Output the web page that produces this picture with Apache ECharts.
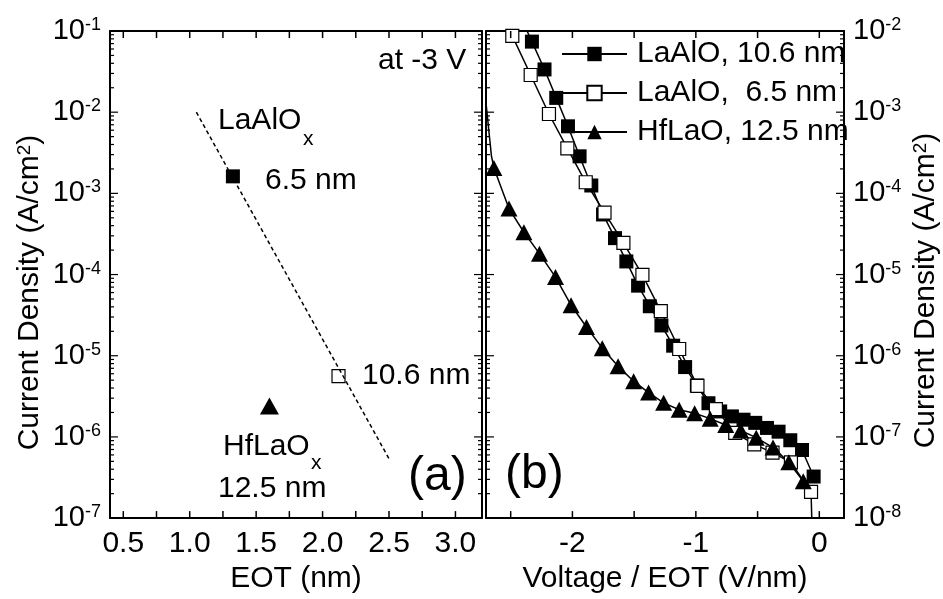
<!DOCTYPE html>
<html><head><meta charset="utf-8">
<script src="https://cdn.jsdelivr.net/npm/echarts@6/dist/echarts.min.js"></script>
<style>html,body{margin:0;padding:0;background:#fff}#c{width:943px;height:599px}</style>
</head><body><div id="c"></div>
<script>
// ---------- Panel (a): current density at -3 V vs EOT ----------
const eotLaAlO65 = [[1.325, 1.62e-3]];   // LaAlOx 6.5 nm
const eotLaAlO106 = [[2.12, 5.6e-6]];    // LaAlOx 10.6 nm
const eotHfLaO125 = [[1.60, 2.4e-6]];    // HfLaOx 12.5 nm
const eotTrendX = [1.05, 2.50];
const eotTrendY = [1.0e-2, 5.4e-7];

// ---------- Panel (b): J vs Voltage/EOT ----------
const fieldLaAlO106 = [-2.42, -2.328, -2.226, -2.131, -2.036, -1.942, -1.847, -1.752, -1.655, -1.563, -1.468, -1.373, -1.279, -1.184, -1.087, -0.992, -0.898, -0.803, -0.708, -0.614, -0.519, -0.424, -0.330, -0.235, -0.140, -0.046];
const jLaAlO106 = [1.5e-2, 7.4e-3, 3.36e-3, 1.50e-3, 6.7e-4, 2.86e-4, 1.25e-4, 5.5e-5, 2.81e-5, 1.45e-5, 7.3e-6, 4.07e-6, 2.36e-6, 1.33e-6, 7.25e-7, 4.3e-7, 2.6e-7, 2.06e-7, 1.79e-7, 1.63e-7, 1.49e-7, 1.29e-7, 1.16e-7, 9.1e-8, 6.9e-8, 3.25e-8];
const unmarkedLaAlO106 = [0];

const fieldLaAlO65 = [-2.487, -2.338, -2.190, -2.041, -1.892, -1.740, -1.587, -1.433, -1.284, -1.135, -0.987, -0.838, -0.681, -0.527, -0.379, -0.230, -0.067, -0.053];
const jLaAlO65 = [8.7e-3, 2.87e-3, 9.5e-4, 3.58e-4, 1.37e-4, 5.8e-5, 2.46e-5, 9.9e-6, 3.54e-6, 1.21e-6, 4.26e-7, 2.2e-7, 1.12e-7, 8.1e-8, 6.4e-8, 4.86e-8, 2.1e-8, 3.7e-9];
const unmarkedLaAlO65 = [17];

const fieldHfLaO125 = [-2.70, -2.656, -2.636, -2.514, -2.393, -2.267, -2.137, -2.011, -1.886, -1.758, -1.630, -1.504, -1.383, -1.261, -1.135, -1.010, -0.884, -0.758, -0.637, -0.511, -0.375, -0.247, -0.130];
const jHfLaO125 = [1.3e-3, 2.9e-4, 2.05e-4, 6.5e-5, 3.32e-5, 1.81e-5, 9.3e-6, 4.19e-6, 2.26e-6, 1.24e-6, 7.4e-7, 4.86e-7, 3.52e-7, 2.63e-7, 2.16e-7, 1.96e-7, 1.68e-7, 1.40e-7, 1.20e-7, 9.8e-8, 7.4e-8, 4.86e-8, 2.84e-8];
const unmarkedHfLaO125 = [0, 1];

const seriesNames = ['LaAlO, 10.6 nm', 'LaAlO,  6.5 nm', 'HfLaO, 12.5 nm'];

// ---------- Axis ranges and ticks ----------
const eotRange = [0.4, 3.2];
const fieldRange = [-2.7, 0.2];
const jRangeA = [1e-7, 1e-1];
const jRangeB = [1e-8, 1e-2];
const eotTicks = [0.5, 0.75, 1.0, 1.25, 1.5, 1.75, 2.0, 2.25, 2.5, 2.75, 3.0];
const eotLabels = [0.5, 1.0, 1.5, 2.0, 2.5, 3.0];
const fieldTicks = [-2.5, -2, -1.5, -1, -0.5, 0];
const fieldLabels = [-2, -1, 0];
const decadesA = [1e-7, 1e-6, 1e-5, 1e-4, 1e-3, 1e-2, 1e-1];
const decadesB = [1e-8, 1e-7, 1e-6, 1e-5, 1e-4, 1e-3, 1e-2];

function minorTicks(decades) {
  const out = [];
  for (let i = 0; i < decades.length - 1; i++)
    for (let k = 2; k <= 9; k++) out.push(k * decades[i]);
  return out;
}

const FONT = 'Liberation Sans, Arial, Helvetica, sans-serif';
const BLACK = '#000';

function pts(xs, ys, unmarked) {
  return xs.map((x, i) => unmarked && unmarked.indexOf(i) >= 0
    ? { value: [x, ys[i]], symbol: 'none' } : [x, ys[i]]);
}

const supRich = { sup: { fontSize: 18, lineHeight: 18, verticalAlign: 'top', fontFamily: FONT, color: BLACK } };
function expLabel(v) { return '10{sup|' + Math.round(Math.log10(v)) + '}'; }

function xAx(grid, pos, range, labels, name, fmt) {
  return {
    gridIndex: grid, type: 'value', position: pos, min: range[0], max: range[1],
    splitLine: { show: false },
    axisLine: { show: true, onZero: false, lineStyle: { color: BLACK, width: 2 } },
    axisTick: { show: false },
    axisLabel: labels ? { show: true, customValues: labels, formatter: fmt, fontSize: 30, color: BLACK, fontFamily: FONT, margin: 11 } : { show: false },
    name: name || '', nameLocation: 'middle', nameGap: 41,
    nameTextStyle: { fontSize: 30, color: BLACK, fontFamily: FONT }
  };
}
function yAx(grid, pos, range, labels, name, gap, pad) {
  return {
    gridIndex: grid, type: 'log', logBase: 10, position: pos, min: range[0], max: range[1],
    splitLine: { show: false },
    axisLine: { show: true, onZero: false, lineStyle: { color: BLACK, width: 2 } },
    axisTick: { show: false },
    axisLabel: labels ? { show: true, customValues: labels, formatter: expLabel, fontSize: 29, lineHeight: 30, color: BLACK, fontFamily: FONT, margin: 9, rich: supRich } : { show: false },
    name: name || '', nameLocation: 'middle', nameGap: gap || 0,
    nameTextStyle: { fontSize: 30, lineHeight: 30, color: BLACK, fontFamily: FONT, padding: pad || 0,
      rich: { sup: { fontSize: 19, lineHeight: 19, verticalAlign: 'top', fontFamily: FONT, color: BLACK } } }
  };
}

// tick marks drawn through the axes' own scales (inside ticks on all four sides)
function xTickSeries(xi, yi, ticks, yRange, len) {
  return {
    type: 'custom', xAxisIndex: xi, yAxisIndex: yi, silent: true, clip: false, z: 5,
    data: ticks.map(v => [v, yRange[0]]),
    renderItem: function (params, api) {
      const v = api.value(0);
      const b = api.coord([v, yRange[0]]);
      const t = api.coord([v, yRange[1]]);
      const st = { stroke: BLACK, lineWidth: 1.5 };
      return { type: 'group', children: [
        { type: 'line', shape: { x1: b[0], y1: b[1], x2: b[0], y2: b[1] - len }, style: st },
        { type: 'line', shape: { x1: t[0], y1: t[1], x2: t[0], y2: t[1] + len }, style: st }
      ] };
    }
  };
}
function yTickSeries(xi, yi, ticks, xRange, len) {
  return {
    type: 'custom', xAxisIndex: xi, yAxisIndex: yi, silent: true, clip: false, z: 5,
    data: ticks.map(v => [xRange[0], v]),
    renderItem: function (params, api) {
      const v = api.value(1);
      const l = api.coord([xRange[0], v]);
      const r = api.coord([xRange[1], v]);
      const st = { stroke: BLACK, lineWidth: 1.2 };
      return { type: 'group', children: [
        { type: 'line', shape: { x1: l[0], y1: l[1], x2: l[0] + len, y2: l[1] }, style: st },
        { type: 'line', shape: { x1: r[0], y1: r[1], x2: r[0] - len, y2: r[1] }, style: st }
      ] };
    }
  };
}

const yName = 'Current Density (A/cm{sup|2})';

const option = {
  animation: false,
  backgroundColor: '#fff',
  textStyle: { fontFamily: FONT, color: BLACK },
  grid: [
    { left: 110, top: 31, width: 372, height: 494 },
    { left: 486, top: 31, width: 358, height: 494 }
  ],
  xAxis: [
    xAx(0, 'bottom', eotRange, eotLabels, 'EOT (nm)', v => v.toFixed(1)),
    xAx(0, 'top', eotRange, null),
    xAx(1, 'bottom', fieldRange, fieldLabels, 'Voltage / EOT (V/nm)', v => String(v)),
    xAx(1, 'top', fieldRange, null)
  ],
  yAxis: [
    yAx(0, 'left', jRangeA, decadesA, yName, 65, [0, 36, 0, 0]),
    yAx(0, 'right', jRangeA, null),
    yAx(1, 'left', jRangeB, null),
    yAx(1, 'right', jRangeB, decadesB, yName, 67, [0, 32, 0, 0])
  ],
  legend: {
    show: true, orient: 'vertical', left: 561, top: 39, padding: 0,
    itemWidth: 65, itemHeight: 18, itemGap: 9,
    data: seriesNames,
    selectedMode: false,
    textStyle: { fontSize: 30, lineHeight: 30, color: BLACK, fontFamily: FONT, padding: [0, 0, 0, 5] }
  },
  series: [
    // panel (a)
    { type: 'line', xAxisIndex: 0, yAxisIndex: 0, data: eotTrendX.map((x, i) => [x, eotTrendY[i]]),
      showSymbol: false, silent: true, lineStyle: { color: BLACK, width: 1.5, type: [4, 3] } },
    { type: 'scatter', xAxisIndex: 0, yAxisIndex: 0, data: eotLaAlO65, symbol: 'rect', symbolSize: 14,
      itemStyle: { color: BLACK, opacity: 1 }, silent: true },
    { type: 'scatter', xAxisIndex: 0, yAxisIndex: 0, data: eotLaAlO106, symbol: 'rect', symbolSize: 13,
      itemStyle: { color: '#fff', borderColor: BLACK, borderWidth: 1.2, opacity: 1 }, silent: true },
    { type: 'scatter', xAxisIndex: 0, yAxisIndex: 0, data: eotHfLaO125, symbol: 'triangle', symbolSize: [19, 17],
      itemStyle: { color: BLACK, opacity: 1 }, silent: true },
    // panel (b)
    { name: seriesNames[0], type: 'line', xAxisIndex: 2, yAxisIndex: 3,
      data: pts(fieldLaAlO106, jLaAlO106, unmarkedLaAlO106),
      symbol: 'rect', symbolSize: 14, showAllSymbol: true, silent: true,
      lineStyle: { color: BLACK, width: 1.5 }, itemStyle: { color: BLACK } },
    { name: seriesNames[1], type: 'line', xAxisIndex: 2, yAxisIndex: 3,
      data: pts(fieldLaAlO65, jLaAlO65, unmarkedLaAlO65),
      symbol: 'rect', symbolSize: 13, showAllSymbol: true, silent: true,
      lineStyle: { color: BLACK, width: 1.5 }, itemStyle: { color: '#fff', borderColor: BLACK, borderWidth: 1.2 } },
    { name: seriesNames[2], type: 'line', xAxisIndex: 2, yAxisIndex: 3,
      data: pts(fieldHfLaO125, jHfLaO125, unmarkedHfLaO125),
      symbol: 'triangle', symbolSize: [17, 16], showAllSymbol: true, silent: true,
      lineStyle: { color: BLACK, width: 1.5 }, itemStyle: { color: BLACK } },
    // ticks
    xTickSeries(0, 0, eotTicks, jRangeA, 7),
    yTickSeries(0, 0, decadesA, eotRange, 8),
    yTickSeries(0, 0, minorTicks(decadesA), eotRange, 4),
    xTickSeries(2, 3, fieldTicks, jRangeB, 7),
    yTickSeries(2, 3, decadesB, fieldRange, 8),
    yTickSeries(2, 3, minorTicks(decadesB), fieldRange, 4)
  ],
  graphic: [
    { type: 'text', style: { x: 378, y: 61, text: 'at -3 V', font: '30px ' + FONT, fill: BLACK, verticalAlign: 'middle' } },
    { type: 'text', style: { x: 218, y: 121, text: 'LaAlO', font: '30px ' + FONT, fill: BLACK, verticalAlign: 'middle' } },
    { type: 'text', style: { x: 303, y: 139, text: 'x', font: '21px ' + FONT, fill: BLACK, verticalAlign: 'middle' } },
    { type: 'text', style: { x: 265, y: 181, text: '6.5 nm', font: '30px ' + FONT, fill: BLACK, verticalAlign: 'middle' } },
    { type: 'text', style: { x: 362, y: 376, text: '10.6 nm', font: '30px ' + FONT, fill: BLACK, verticalAlign: 'middle' } },
    { type: 'text', style: { x: 223, y: 447, text: 'HfLaO', font: '30px ' + FONT, fill: BLACK, verticalAlign: 'middle' } },
    { type: 'text', style: { x: 311, y: 463, text: 'x', font: '21px ' + FONT, fill: BLACK, verticalAlign: 'middle' } },
    { type: 'text', style: { x: 218, y: 489, text: '12.5 nm', font: '30px ' + FONT, fill: BLACK, verticalAlign: 'middle' } },
    { type: 'text', style: { x: 408, y: 477, text: '(a)', font: '48px ' + FONT, fill: BLACK, verticalAlign: 'middle' } },
    { type: 'text', style: { x: 505, y: 475, text: '(b)', font: '48px ' + FONT, fill: BLACK, verticalAlign: 'middle' } }
  ]
};

const chart = echarts.init(document.getElementById('c'), null, { renderer: 'canvas' });
chart.setOption(option);
</script>
</body></html>
